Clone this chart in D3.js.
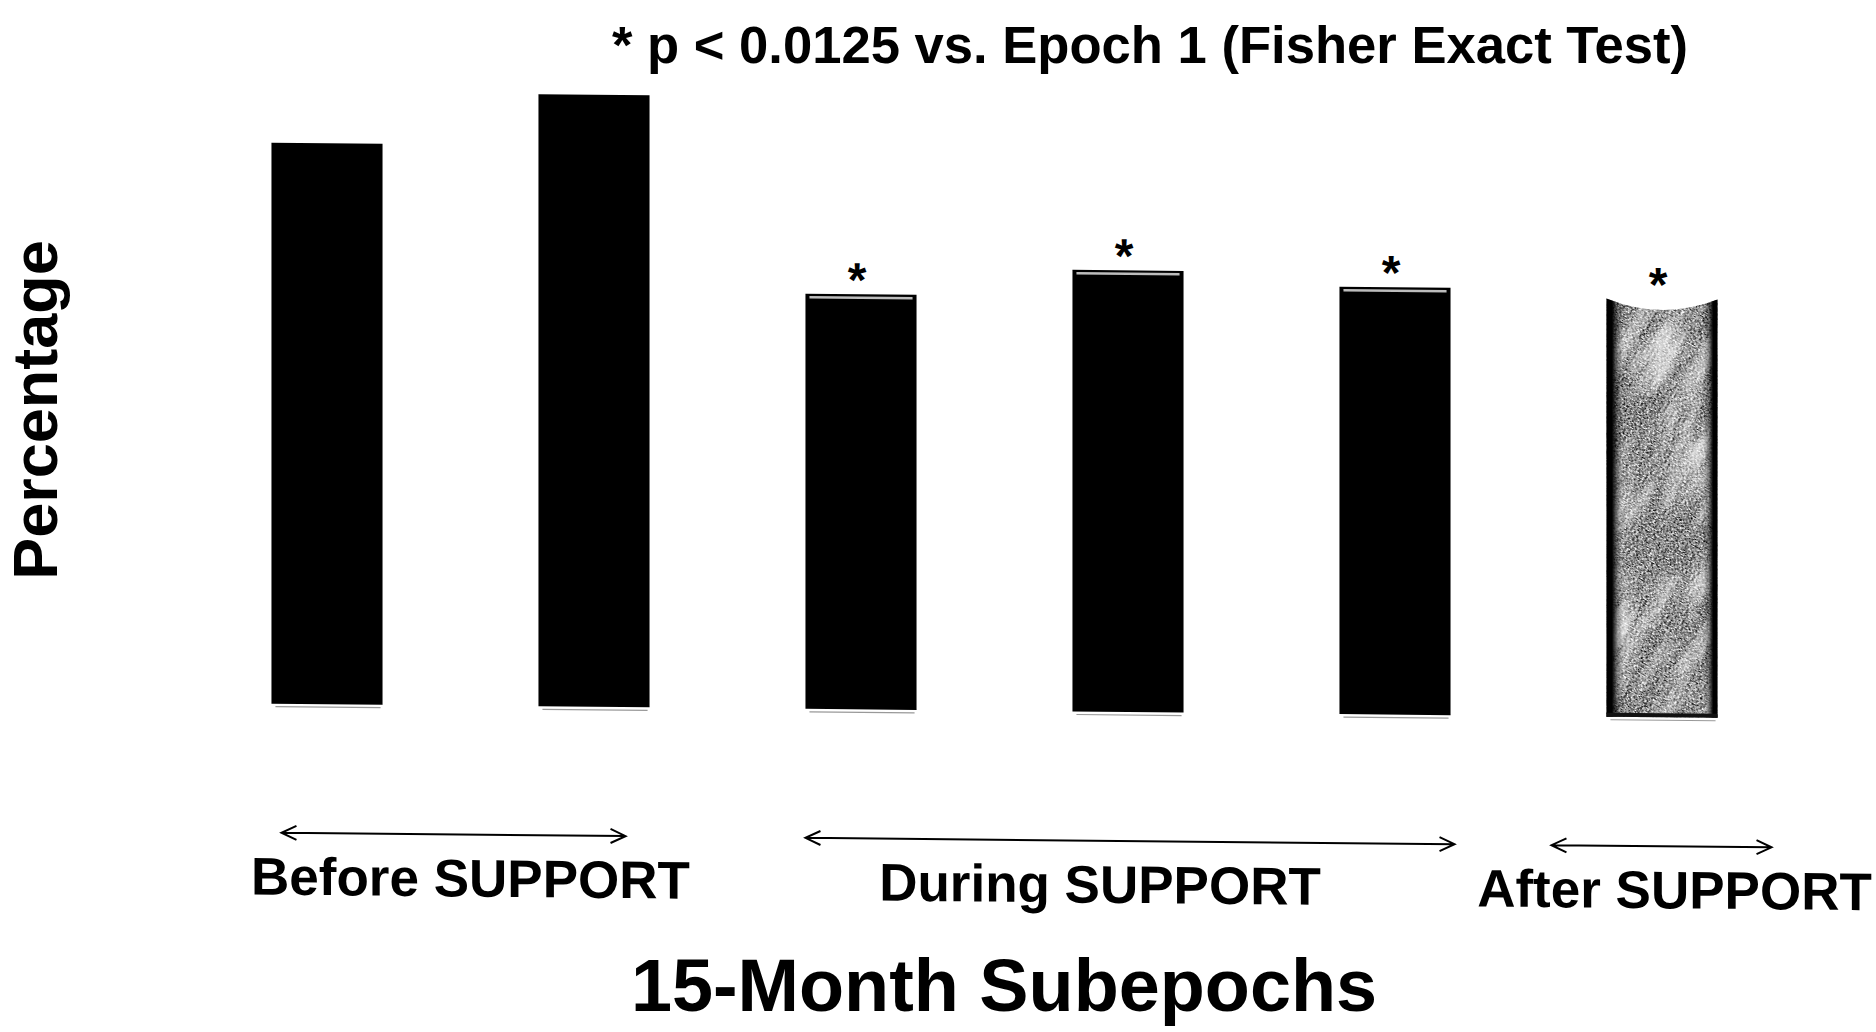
<!DOCTYPE html>
<html>
<head>
<meta charset="utf-8">
<script src="https://cdn.jsdelivr.net/npm/d3@7"></script>
<style>
  body { margin: 0; background: #fff; }
  text { font-family: "Liberation Sans", Arial, Helvetica, sans-serif; font-weight: bold; fill: #000; }
</style>
</head>
<body>
<script>
// Data
// ----
const subepochs = ["1", "2", "3", "4", "5", "6"];
const percentages = [55.0, 60.0, 40.7, 43.3, 41.9, 41.0];
const significant = [false, false, true, true, true, true];
const periods = ["Before SUPPORT", "During SUPPORT", "After SUPPORT"];
const periodOfSubepoch = [0, 0, 1, 1, 1, 2];
const titleText = "* p < 0.0125 vs. Epoch 1 (Fisher Exact Test)";
const yLabel = "Percentage";
const xLabel = "15-Month Subepochs";

// Layout
// ------
const W = 1876, H = 1032;
const baseY = 701;
const arrowY = 830, periodLabelY = 892;
// arrow ends relative to the outer bar edges of each period, and label nudges
const arrowInset = [[10, -24], [0, 4], [-55, 54]];
const labelNudge = [17, -30, 13];

const svg = d3.select("body").append("svg")
  .attr("width", W).attr("height", H);

const defs = svg.append("defs");

// granite-like texture for the post-SUPPORT bar
const f = defs.append("filter").attr("id", "granite")
  .attr("filterUnits", "userSpaceOnUse")
  .attr("x", 0).attr("y", 0).attr("width", 900).attr("height", 900)
  .attr("color-interpolation-filters", "sRGB");
f.append("feTurbulence").attr("type", "fractalNoise")
  .attr("baseFrequency", "0.012 0.05").attr("numOctaves", 4).attr("seed", 5).attr("result", "coarse");
f.append("feColorMatrix").attr("in", "coarse").attr("type", "matrix")
  .attr("values", "0.33 0.33 0.33 0 0 0.33 0.33 0.33 0 0 0.33 0.33 0.33 0 0 0 0 0 0 1")
  .attr("result", "cg");
const ct = f.append("feComponentTransfer").attr("in", "cg").attr("result", "cc");
["feFuncR", "feFuncG", "feFuncB"].forEach(k =>
  ct.append(k).attr("type", "linear").attr("slope", 3).attr("intercept", -1.3));
f.append("feTurbulence").attr("type", "fractalNoise")
  .attr("baseFrequency", "0.8 0.45").attr("numOctaves", 2).attr("seed", 11).attr("result", "fine");
f.append("feColorMatrix").attr("in", "fine").attr("type", "matrix")
  .attr("values", "0.33 0.33 0.33 0 0 0.33 0.33 0.33 0 0 0.33 0.33 0.33 0 0 0 0 0 0 1")
  .attr("result", "fg");
const ft = f.append("feComponentTransfer").attr("in", "fg").attr("result", "fc");
["feFuncR", "feFuncG", "feFuncB"].forEach(k =>
  ft.append(k).attr("type", "linear").attr("slope", 3.6).attr("intercept", -1.25));
f.append("feBlend").attr("in", "cc").attr("in2", "fc").attr("mode", "screen");

const pat = defs.append("pattern").attr("id", "granitePat")
  .attr("patternUnits", "userSpaceOnUse")
  .attr("width", 900).attr("height", 900)
  .attr("patternTransform", "rotate(-60)");
pat.append("rect").attr("width", 900).attr("height", 900).attr("fill", "#888")
  .attr("filter", "url(#granite)");

const edge = defs.append("linearGradient").attr("id", "edges")
  .attr("x1", 0).attr("x2", 1).attr("y1", 0).attr("y2", 0);
[[0, 1], [0.05, 1], [0.1, 0.35], [0.15, 0], [0.87, 0], [0.92, 0.35], [0.96, 1], [1, 1]].forEach(([o, a]) =>
  edge.append("stop").attr("offset", o).attr("stop-color", "#000").attr("stop-opacity", a));

// Scales
// ------
const x = d3.scaleBand().domain(subepochs)
  .range([193.5, 1795.5]).paddingInner(0.584).paddingOuter(0.292);
const y = d3.scaleLinear().domain([0, 60]).range([baseY, baseY - 612]);
const bw = x.bandwidth();

const rows = subepochs.map((s, i) => ({
  s, v: percentages[i], sig: significant[i], p: periodOfSubepoch[i]
}));

// the scanned figure sits slightly askew
const g = svg.append("g").attr("transform", "skewY(0.56)");

// solid bars
const solid = rows.filter(d => d.p !== 2);
g.selectAll("rect.bar").data(solid).join("rect")
  .attr("class", "bar")
  .attr("x", d => x(d.s)).attr("y", d => y(d.v))
  .attr("width", bw).attr("height", d => y(0) - y(d.v))
  .attr("fill", "#000");

// light sheen line near the top of the During bars
g.selectAll("line.sheen").data(solid.filter(d => d.p === 1)).join("line")
  .attr("class", "sheen")
  .attr("x1", d => x(d.s) + 4).attr("x2", d => x(d.s) + bw - 4)
  .attr("y1", d => y(d.v) + 3.5).attr("y2", d => y(d.v) + 3.5)
  .attr("stroke", "#bdbdbd").attr("stroke-width", 2.5);

// faint shadow under every bar
g.selectAll("line.foot").data(rows).join("line")
  .attr("class", "foot")
  .attr("x1", d => x(d.s) + 4).attr("x2", d => x(d.s) + bw - 2)
  .attr("y1", y(0) + 3).attr("y2", y(0) + 3)
  .attr("stroke", "#999").attr("stroke-width", 1.2);

// textured bar with a concave top
const texPath = d => {
  const x0 = x(d.s), x1 = x(d.s) + bw, t = y(d.v), b = y(0);
  return `M${x0},${t} L${x0},${b} L${x1},${b} L${x1},${t} Q${x0 + bw / 2},${t + 22} ${x0},${t} Z`;
};
const tex = rows.filter(d => d.p === 2);
g.selectAll("path.tex").data(tex).join("path")
  .attr("class", "tex").attr("d", texPath)
  .attr("fill", "url(#granitePat)");
g.selectAll("path.texedge").data(tex).join("path")
  .attr("class", "texedge").attr("d", texPath)
  .attr("fill", "url(#edges)");
g.selectAll("line.texfoot").data(tex).join("line")
  .attr("class", "texfoot")
  .attr("x1", d => x(d.s)).attr("x2", d => x(d.s) + bw)
  .attr("y1", y(0) - 2).attr("y2", y(0) - 2)
  .attr("stroke", "#111").attr("stroke-width", 4);

// significance stars
g.selectAll("text.star").data(rows.filter(d => d.sig)).join("text")
  .attr("class", "star")
  .attr("x", d => x(d.s) + bw / 2 - 4).attr("y", d => y(d.v) + 2)
  .attr("text-anchor", "middle").attr("font-size", 48)
  .text("*");

// period arrows and labels
const spans = periods.map((name, k) => {
  const members = rows.filter(d => d.p === k);
  const a = x(members[0].s) + arrowInset[k][0];
  const b = x(members[members.length - 1].s) + bw + arrowInset[k][1];
  return { name, a, b, k };
});
const head = 15, half = 7;
g.selectAll("path.arrow").data(spans).join("path")
  .attr("class", "arrow")
  .attr("d", d => `M${d.a},${arrowY} L${d.b},${arrowY}` +
    ` M${d.a + head},${arrowY - half} L${d.a},${arrowY} L${d.a + head},${arrowY + half}` +
    ` M${d.b - head},${arrowY - half} L${d.b},${arrowY} L${d.b - head},${arrowY + half}`)
  .attr("fill", "none").attr("stroke", "#000").attr("stroke-width", 2);

g.selectAll("text.period").data(spans).join("text")
  .attr("class", "period")
  .attr("x", d => (d.a + d.b) / 2 + labelNudge[d.k]).attr("y", periodLabelY)
  .attr("text-anchor", "middle").attr("font-size", 53)
  .text(d => d.name);

// titles
svg.append("text")
  .attr("x", 1150).attr("y", 63).attr("text-anchor", "middle")
  .attr("font-size", 52.6).text(titleText);

svg.append("text")
  .attr("transform", "translate(57,410) rotate(-90)")
  .attr("text-anchor", "middle").attr("font-size", 63).text(yLabel);

svg.append("text")
  .attr("x", 1004).attr("y", 1011).attr("text-anchor", "middle")
  .attr("font-size", 73.8).text(xLabel);
</script>
</body>
</html>
